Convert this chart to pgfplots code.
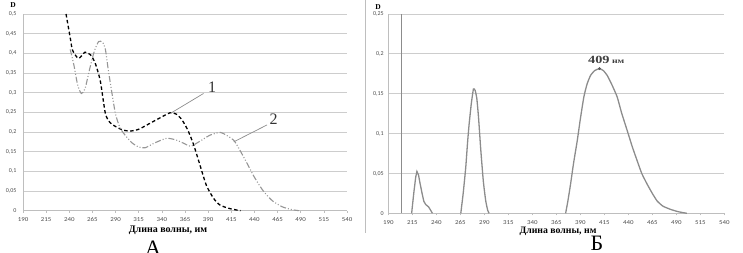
\documentclass[border=0pt]{standalone}
\usepackage{fontspec}
\setmainfont{Liberation Serif}
\newfontfamily\tickfont{Carlito}
\usepackage{pgfplots}
\pgfplotsset{compat=1.18}
\definecolor{gridc}{RGB}{205,205,205}
\definecolor{axc}{RGB}{190,190,190}
\definecolor{curvegray}{RGB}{140,140,140}
\definecolor{c2gray}{RGB}{150,150,150}
\begin{document}
\begin{tikzpicture}
\path[use as bounding box] (0pt,0pt) rectangle (743pt,252pt);
\draw[axc, line width=0.9pt] (365.7pt,252pt) -- (365.7pt,19pt);
\pgfplotsset{myax/.style={
  scale only axis,
  axis x line=bottom, axis y line=left,
  axis line style={-,draw=axc,line width=0.7pt},
  xmin=190, xmax=540, xtick={190,215,...,540},
  ymin=0,
  ymajorgrids, grid style={gridc, line width=0.8pt},
  tick label style={font=\tickfont\fontsize{6}{6}\selectfont, text=black!70},
  /pgf/number format/assume math mode=true,
  /pgf/number format/1000 sep={},
  tick align=outside,
  ytick style={draw=none},
  xtick style={draw=axc, line width=0.5pt},
  major tick length=2pt,
  clip=false,
}}
% ---------- Panel A ----------
\begin{axis}[myax, at={(23pt,41.3pt)}, anchor=south west, width=324pt, height=196.7pt,
  ymax=0.5, ytick={0,0.05,...,0.51},
  yticklabels={0,{0,05},{0,1},{0,15},{0,2},{0,25},{0,3},{0,35},{0,4},{0,45},{0,5}},
  yticklabel style={xshift=-1pt},
  xticklabel style={yshift=-1.5pt, xscale=1.15}]
\addplot[black, line width=1.3pt, dash pattern=on 3.5pt off 2.5pt, smooth, tension=0.4] coordinates {
(236.5,0.5)(241,0.44)(243.5,0.408)(250,0.387)(257,0.403)(263,0.396)(268,0.375)
(273.5,0.33)(279,0.247)(284,0.224)(290,0.214)(298,0.205)(306,0.2025)(315,0.207)
(327,0.222)(338,0.236)(349,0.249)(356,0.245)(362,0.23)(368,0.205)(374,0.17)
(380,0.125)(388,0.065)(396,0.031)(403,0.014)(414,0.005)(425,0)};
\addplot[c2gray, line width=1.1pt, dash pattern=on 6pt off 2pt on 1pt off 2pt on 1pt off 2pt, smooth, tension=0.4] coordinates {
(241,0.41)(245,0.37)(249,0.32)(253,0.298)(257,0.31)(262,0.36)(267,0.405)(271.7,0.43)
(276,0.428)(279,0.41)(282,0.36)(286,0.30)(290,0.245)(295,0.21)(301,0.19)(308,0.172)
(315,0.162)(322,0.16)(332,0.172)(345,0.184)(355,0.18)(363,0.172)(371,0.164)(380,0.175)
(392,0.192)(403,0.199)(411,0.19)(418,0.178)(424,0.155)(431,0.125)(440,0.085)(449,0.052)
(459,0.026)(470,0.01)(480,0.003)(488,0)};
\draw[curvegray, line width=0.7pt] (axis cs:349,0.247) -- (axis cs:385,0.298);
\draw[curvegray, line width=0.7pt] (axis cs:417.6,0.175) -- (axis cs:453.6,0.218);
\node[font=\fontsize{16}{16}\selectfont, text=black!80] at (axis cs:394.2,0.3136) {1};
\node[font=\fontsize{16}{16}\selectfont, text=black!80] at (axis cs:460.8,0.232) {2};
\end{axis}
% ---------- Panel B ----------
\begin{axis}[myax, at={(388.3pt,38.7pt)}, anchor=south west, width=336pt, height=199.3pt,
  ymax=0.25, ytick={0,0.05,...,0.251},
  yticklabels={0,{0,05},{0,1},{0,15},{0,2},{0,25}},
  yticklabel style={xshift=1pt},
  xticklabel style={yshift=-1.5pt, xscale=1.15}]
\draw[curvegray, line width=1pt] (axis cs:203.9,0) -- (axis cs:203.9,0.25);
\addplot[curvegray, line width=1.3pt] coordinates {
(214.3,0)(216.5,0.025)(218.5,0.045)(219.8,0.0525)(221.5,0.048)(223,0.038)(225,0.026)
(227,0.015)(229,0.011)(232,0.008)(234,0.004)(236,0)};
\addplot[curvegray, line width=1.3pt, smooth, tension=0.3] coordinates {
(265.5,0)(268,0.025)(270.7,0.058)(272.5,0.088)(274.2,0.112)(276.5,0.138)(278.7,0.156)
(280.5,0.154)(282.2,0.144)(284,0.12)(286.3,0.08)(289,0.04)(291.5,0.0155)(293.5,0.004)(295,0)};
\addplot[curvegray, line width=1.3pt, smooth, tension=0.3] coordinates {
(374.7,0)(377,0.015)(379.9,0.037)(383,0.063)(386.8,0.091)(390,0.118)(393.7,0.146)
(397,0.162)(400.7,0.173)(405,0.179)(410,0.1815)(414,0.179)(418,0.173)(423,0.161)
(428.4,0.146)(433,0.126)(438.8,0.104)(444,0.084)(449.2,0.066)(454,0.05)(459.6,0.0366)
(465,0.025)(470,0.0155)(476,0.009)(483.8,0.005)(492,0.002)(501,0)};
\addplot[only marks, mark=*, mark size=1.2pt, black!65] coordinates {(410,0.1815)};
\node[anchor=base, text=black!75, inner sep=0, xscale=1.3] at (axis cs:417,0.1875)
  {\fontsize{11}{11}\selectfont\bfseries 409\,\fontsize{7.5}{8}\selectfont нм};
\end{axis}
% ---------- Labels ----------
\node[font=\fontsize{7.5}{8}\selectfont\bfseries] at (13pt,246.5pt) {D};
\node[font=\fontsize{7.5}{8}\selectfont\bfseries] at (378pt,245pt) {D};
\node[font=\fontsize{10}{10}\selectfont\bfseries] at (168pt,22pt) {Длина волны, им};
\node[font=\fontsize{9.8}{10}\selectfont\bfseries] at (558pt,21pt) {Длина волны, нм};
\node[anchor=base, font=\fontsize{22}{22}\selectfont, inner sep=0] at (153pt,-3pt) {А};
\node[anchor=base, font=\fontsize{22}{22}\selectfont, inner sep=0] at (597pt,2pt) {Б};
\end{tikzpicture}
\end{document}
